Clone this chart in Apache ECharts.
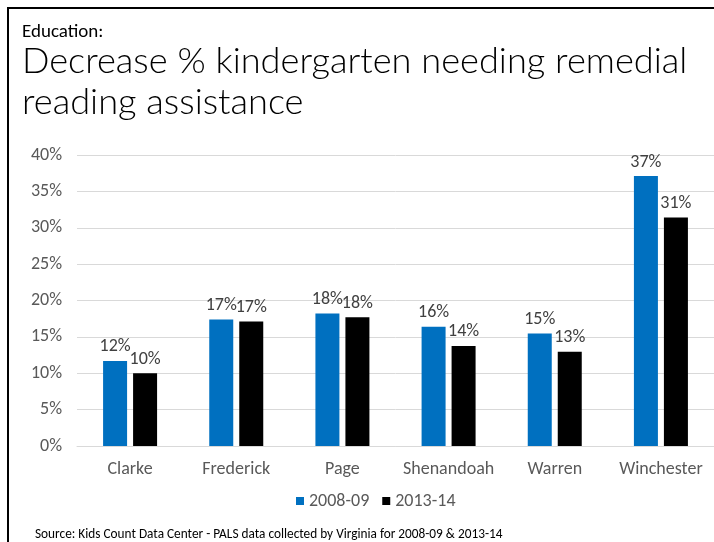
<!DOCTYPE html>
<html>
<head>
<meta charset="utf-8">
<script src="https://cdn.jsdelivr.net/npm/echarts@6/dist/echarts.min.js"></script>
<style>
html,body{margin:0;padding:0;background:#fff;}
#c{width:714px;height:542px;}
</style>
</head>
<body>
<div id="c"></div>
<script>
var categories = ['Clarke', 'Frederick', 'Page', 'Shenandoah', 'Warren', 'Winchester'];
var series2008 = [11.7, 17.4, 18.2, 16.4, 15.45, 37.1];
var series2013 = [10.0, 17.1, 17.7, 13.75, 12.97, 31.4];
var seriesNames = ['2008-09', '2013-14'];
var yTicks = { min: 0, max: 40, interval: 5 };

var FONT = 'Carlito, "Liberation Sans Narrow", "DejaVu Sans Condensed", sans-serif';
var TFONT = '"Lato", Carlito, sans-serif';
var chart = echarts.init(document.getElementById('c'), null, { renderer: 'canvas' });

function lbl(p) { return Math.round(p.value) + '%'; }

chart.setOption({
  animation: false,
  textStyle: { fontFamily: FONT },
  title: [
    { text: 'Education:', left: 17, top: 18, textStyle: { fontFamily: FONT, fontSize: 19, fontWeight: 'normal', color: '#000' } },
    { text: 'Decrease % kindergarten needing remedial\nreading assistance', left: 17, top: 36,
      textStyle: { fontFamily: TFONT, fontSize: 36.2, fontWeight: 300, color: '#000', lineHeight: 41 } }
  ],
  graphic: [
    { type: 'rect', shape: { x: 8, y: 8, width: 720, height: 560 }, style: { fill: 'none', stroke: '#000', lineWidth: 2 } },
    { type: 'text', left: 35, top: 528, style: { text: 'Source: Kids Count Data Center - PALS data collected by Virginia for 2008-09 & 2013-14', fontFamily: FONT, fontSize: 13.3, fill: '#000' } }
  ],
  legend: {
    data: seriesNames, bottom: 27, left: 291, itemWidth: 8, itemHeight: 8, itemGap: 13,
    icon: 'rect', textStyle: { fontFamily: FONT, fontSize: 18, color: '#595959' }
  },
  grid: { left: 77, right: 0, top: 155, bottom: 96 },
  xAxis: {
    type: 'category', data: categories,
    axisLine: { lineStyle: { color: '#D9D9D9' } },
    axisTick: { show: false },
    axisLabel: { interval: 0, fontFamily: FONT, fontSize: 18, color: '#595959', margin: 14 }
  },
  yAxis: {
    type: 'value', min: yTicks.min, max: yTicks.max, interval: yTicks.interval,
    axisLine: { show: false }, axisTick: { show: false },
    axisLabel: { formatter: '{value}%', fontFamily: FONT, fontSize: 18, color: '#595959', margin: 15 },
    splitLine: { lineStyle: { color: '#D9D9D9' } }
  },
  series: [
    { name: seriesNames[0], type: 'bar', data: series2008, barWidth: 24, barGap: '25%',
      itemStyle: { color: '#0070C0' },
      label: { show: true, position: 'top', formatter: lbl, fontFamily: FONT, fontSize: 18, color: '#404040', distance: 5 } },
    { name: seriesNames[1], type: 'bar', data: series2013, barWidth: 24,
      itemStyle: { color: '#000000' },
      label: { show: true, position: 'top', formatter: lbl, fontFamily: FONT, fontSize: 18, color: '#404040', distance: 5 } }
  ]
});
</script>
</body>
</html>
